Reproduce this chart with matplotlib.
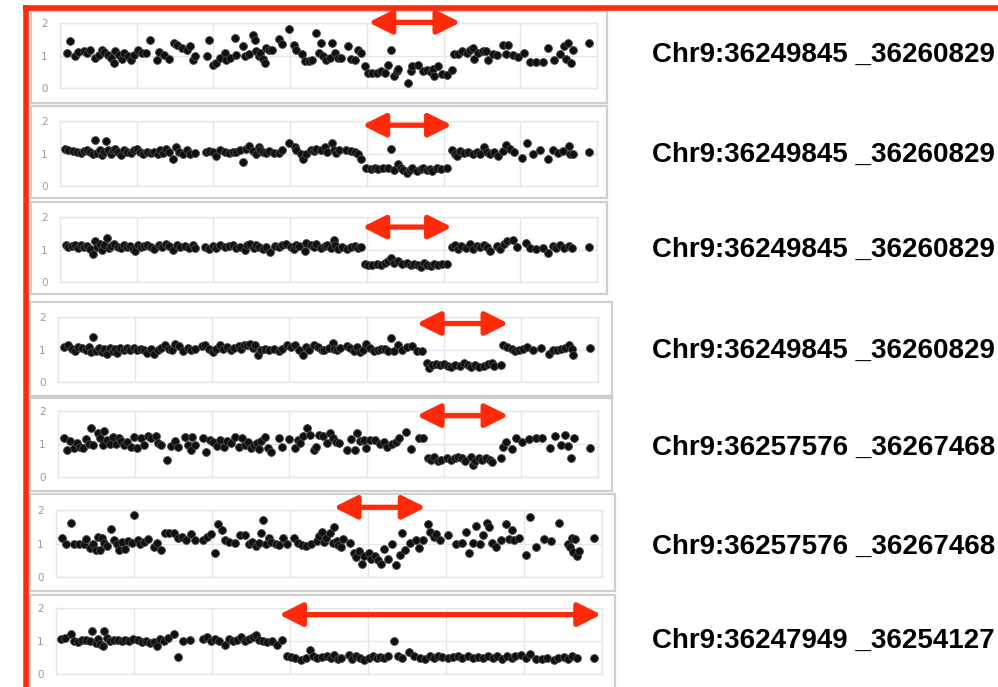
import matplotlib
matplotlib.use("Agg")
import matplotlib.pyplot as plt
from matplotlib.patches import Rectangle
from matplotlib.lines import Line2D

# ---------------- data (probe position 0..700, copy-number ratio) ----------------
labels = [
    "Chr9:36249845 _36260829",
    "Chr9:36249845 _36260829",
    "Chr9:36249845 _36260829",
    "Chr9:36249845 _36260829",
    "Chr9:36257576 _36267468",
    "Chr9:36257576 _36267468",
    "Chr9:36247949 _36254127",
]

p1_x = [9,13,19,24,31,35,39,45,51,55,58,62,66,70,72,77,81,84,88,93,97,102,107,112,117,126,129,135,142,149,
        152,159,165,170,174,176,191,194,199,204,209,215,217,222,228,230,238,241,246,251,254,256,259,261,264,267,268,272,277,285,
        290,299,305,308,315,319,324,329,334,337,340,343,347,352,355,358,362,366,376,379,385,389,393,398,402,407,413,418,423,427,
        432,436,439,441,453,457,459,467,473,478,483,486,488,493,498,504,511,514,519,524,530,535,538,540,545,551,555,558,564,569,
        577,581,584,590,597,605,613,621,629,636,644,652,657,660,662,666,669,689]
p1_y = [1.08,1.44,1.0,1.1,1.13,1.08,1.18,0.92,1.03,1.16,1.1,1.03,0.92,0.77,1.13,1.03,0.89,1.08,0.97,0.85,
        1.03,1.16,1.08,1.08,1.49,0.87,1.1,1.03,0.89,1.4,1.33,1.23,1.18,1.28,0.87,0.97,0.97,1.49,0.72,0.77,
        0.92,1.08,0.87,0.92,1.54,1.03,1.28,0.97,1.06,1.64,1.49,1.13,0.97,1.08,0.89,0.77,1.23,1.18,1.18,1.51,
        1.36,1.82,1.33,1.18,1.06,0.82,0.82,0.87,1.69,1.08,1.4,0.97,0.85,0.92,1.38,1.08,0.92,0.92,1.3,0.89,
        0.87,1.18,1.08,0.67,0.46,0.46,0.46,0.51,0.46,0.72,1.18,0.38,0.51,0.58,0.15,0.51,0.69,0.72,0.51,0.56,
        0.48,0.58,0.38,0.69,0.44,0.41,0.54,1.06,1.06,1.13,1.08,1.18,1.23,0.89,1.08,1.13,1.13,0.85,1.06,1.03,
        1.33,1.06,1.33,1.03,0.95,1.08,0.79,0.79,0.79,1.23,0.85,1.06,1.3,0.89,1.38,0.77,1.18,1.4]

p2_x = [6,11,17,22,27,31,35,39,43,45,48,52,55,57,60,62,66,69,72,76,79,83,87,92,97,100,104,108,113,118,
        123,128,131,134,138,142,147,151,155,160,165,170,176,190,194,199,204,209,215,220,225,230,235,239,243,247,251,255,259,261,
        264,269,273,279,285,290,298,306,308,314,317,321,327,331,334,340,345,348,355,357,360,364,373,379,384,389,392,399,405,410,
        415,421,427,432,436,440,444,447,452,456,459,465,470,473,478,482,485,491,496,505,511,515,518,522,527,532,538,543,548,553,
        556,561,566,571,577,582,587,592,602,609,616,626,636,643,649,656,663,665,669,689]
p2_y = [1.15,1.12,1.08,1.05,1.02,1.08,1.1,1.05,0.98,1.43,1.02,1.12,0.95,1.05,1.39,1.1,1.0,1.12,1.15,1.05,
        0.95,1.1,1.05,1.02,1.1,1.15,1.05,1.0,1.05,1.02,1.05,0.98,1.12,1.02,1.15,1.05,0.82,1.2,1.05,1.0,
        1.1,1.0,1.02,1.05,1.08,1.05,0.92,1.1,1.05,1.02,1.05,1.05,1.1,0.74,1.15,1.22,1.08,1.0,1.2,1.12,
        1.05,1.02,1.08,1.02,1.02,1.1,1.33,1.2,1.1,1.0,0.82,0.98,1.12,1.08,1.15,1.1,1.2,1.05,1.31,1.1,
        1.02,1.12,1.1,1.08,1.05,1.0,0.82,0.54,0.51,0.54,0.51,0.54,0.54,1.15,0.49,0.69,0.54,0.49,0.41,0.49,
        0.54,0.47,0.51,0.54,0.49,0.51,0.47,0.54,0.51,0.54,1.1,1.0,0.92,1.08,1.02,1.05,1.0,1.05,0.98,1.2,
        1.05,1.0,1.05,0.92,1.08,1.26,1.15,1.05,0.85,1.33,0.98,1.12,0.82,1.12,1.02,1.08,1.22,0.98,1.0,1.05]

p3_x = [8,11,15,19,23,27,31,35,39,43,45,48,52,55,58,61,64,67,71,76,79,83,87,91,95,98,102,105,109,114,
        118,123,129,133,138,142,147,152,157,163,168,173,176,189,194,199,204,209,215,220,225,230,235,241,244,248,253,256,260,264,
        269,274,280,285,290,295,301,305,308,312,319,321,327,331,334,340,345,348,353,357,359,363,367,374,379,385,389,393,398,402,
        407,413,418,423,428,432,436,441,446,452,457,462,467,471,475,479,483,487,493,498,505,511,515,519,523,529,534,539,543,548,
        553,557,561,569,574,579,583,590,596,607,613,621,629,636,642,647,652,657,663,668,689]
p3_y = [1.13,1.07,1.1,1.13,1.05,1.15,1.07,1.1,1.03,0.86,1.25,1.07,1.17,0.99,1.15,1.35,1.05,1.1,1.17,1.07,
        1.05,1.15,1.07,1.1,1.03,0.94,1.15,1.07,1.1,1.15,1.07,1.03,1.13,1.07,1.17,1.1,0.99,1.15,1.07,1.1,
        1.05,1.13,1.05,1.07,1.03,1.1,1.05,1.13,1.07,1.1,1.15,1.05,1.07,0.99,1.13,1.17,1.05,1.13,1.07,1.03,
        1.07,0.92,1.1,1.07,1.13,1.17,1.07,1.03,1.15,1.1,0.94,1.2,1.13,1.07,1.17,1.05,1.1,1.15,1.05,1.3,
        1.15,1.03,1.07,1.03,1.07,1.1,1.05,1.07,0.55,0.53,0.53,0.55,0.53,0.58,0.64,0.74,0.58,0.66,0.55,0.58,
        0.53,0.55,0.51,0.45,0.58,0.53,0.48,0.55,0.53,0.55,0.55,1.07,1.15,1.03,1.1,1.05,1.17,1.03,1.1,1.07,
        1.15,1.07,0.96,1.1,1.03,1.17,1.25,1.3,1.07,1.2,1.05,1.03,1.05,0.89,1.1,1.05,1.13,1.05,1.1,1.05,1.07]

p4_x = [8,13,18,22,26,31,36,40,43,46,49,53,57,60,63,67,71,74,77,81,85,89,93,98,103,107,111,116,120,125,
        129,134,139,144,148,152,157,162,168,173,177,187,191,196,201,205,210,214,219,224,228,234,237,241,245,249,253,256,259,263,
        268,273,280,286,291,297,302,307,312,318,322,326,332,337,342,345,351,356,358,362,366,374,379,384,388,392,395,399,405,410,
        415,419,424,428,432,436,441,446,452,459,466,472,478,481,485,490,495,500,505,510,515,521,526,531,536,541,546,552,557,562,
        565,574,577,582,588,593,598,603,608,616,626,637,642,647,652,657,662,666,668,690]
p4_y = [1.08,1.13,1.03,0.94,1.08,1.04,0.97,1.08,0.92,1.38,0.94,1.04,0.92,1.03,0.87,1.04,0.94,1.03,0.9,1.04,
        0.97,1.04,1.0,1.04,0.97,1.03,1.0,0.9,1.03,0.87,1.0,1.04,1.13,1.03,0.97,1.18,1.11,0.94,1.04,1.0,
        1.03,1.11,1.13,1.03,0.92,1.03,1.15,1.03,1.08,0.97,1.04,1.11,1.03,1.15,1.13,1.18,1.04,1.13,0.84,1.0,
        1.03,0.97,1.03,0.94,1.03,1.15,1.08,1.13,1.0,0.84,1.08,1.0,1.15,1.08,1.0,0.97,1.04,1.21,1.03,1.0,
        1.04,1.11,1.04,0.94,1.08,0.92,1.0,1.18,1.04,0.94,1.0,1.03,1.03,0.94,1.35,0.94,1.13,1.0,1.08,1.11,
        0.94,0.94,0.57,0.42,0.52,0.54,0.52,0.54,0.5,0.47,0.52,0.5,0.57,0.52,0.47,0.52,0.47,0.5,0.54,0.57,
        0.5,0.52,1.13,1.08,1.03,0.94,1.0,1.03,1.08,0.97,1.04,0.87,0.97,1.0,1.03,1.04,1.13,1.03,0.84,1.04]

p5_x = [8,12,15,21,24,28,32,36,40,43,46,52,54,58,60,63,67,71,75,79,82,86,90,95,99,103,107,112,117,121,
        127,130,134,141,146,152,156,165,169,172,174,177,188,192,197,201,206,210,215,219,224,229,235,239,242,246,250,254,258,260,
        263,268,272,276,286,291,299,307,311,314,318,323,327,332,335,338,343,349,353,357,361,364,375,380,385,388,392,397,399,405,
        411,418,423,426,433,438,442,451,457,468,473,479,483,488,493,497,504,509,514,519,524,528,535,538,541,546,550,555,560,563,
        574,577,581,588,594,602,610,619,627,638,644,652,657,661,665,669,690]
p5_y = [1.18,0.82,1.1,0.87,1.03,0.92,0.89,1.16,1.0,1.5,0.97,1.33,1.18,0.97,1.4,1.13,1.0,1.2,1.0,1.18,
        1.1,0.97,1.07,0.92,1.2,0.87,1.18,0.97,1.23,1.18,1.23,1.03,0.97,0.52,0.95,1.1,0.92,1.2,0.97,0.82,
        1.2,0.97,1.18,0.77,1.13,1.06,0.95,1.13,0.92,1.1,1.03,1.2,0.92,1.18,0.97,1.07,0.87,0.97,1.03,0.85,
        1.1,1.2,0.89,0.77,1.18,0.92,1.16,0.89,1.13,1.03,1.23,1.48,1.28,0.82,0.92,1.28,1.23,1.03,1.33,1.18,
        1.07,1.03,0.82,1.16,0.82,1.33,1.1,1.13,0.87,1.13,1.13,1.0,1.07,0.92,1.0,1.07,1.18,1.36,0.85,1.18,
        1.18,0.59,0.52,0.62,0.47,0.52,0.59,0.52,0.59,0.62,0.57,0.49,0.62,0.37,0.49,0.57,0.52,0.57,0.52,0.44,
        0.59,0.92,1.07,0.85,1.18,1.07,1.16,1.18,1.18,0.89,1.23,0.97,1.28,0.95,0.57,1.18,0.89]

p6_x = [8,13,19,23,30,36,38,43,47,51,54,56,59,62,65,70,74,78,81,84,88,92,97,100,105,108,113,118,125,129,
        134,140,145,151,157,162,167,173,178,189,194,199,204,208,213,217,222,229,236,242,247,251,256,260,263,265,269,273,276,282,
        286,291,296,305,310,315,320,327,334,337,341,343,346,351,355,357,360,362,366,368,377,382,385,388,392,395,401,404,409,413,
        417,421,426,431,436,441,444,448,454,462,465,470,477,480,484,487,492,503,513,520,526,530,535,538,543,547,552,555,559,564,
        571,577,581,584,587,594,603,608,616,625,635,645,656,659,662,663,666,668,671,690]
p6_y = [1.15,1.0,1.62,0.98,0.98,1.0,1.12,0.88,1.0,0.8,1.2,0.8,1.15,1.02,0.92,1.42,1.1,0.98,0.8,1.05,
        0.85,1.08,1.02,1.85,1.1,0.98,1.05,1.12,0.9,1.02,0.8,1.32,1.3,1.3,1.15,1.2,1.1,1.28,1.1,1.1,
        1.2,1.28,0.72,1.58,1.4,1.1,1.05,1.02,1.25,1.25,1.0,1.05,0.92,1.02,1.32,1.7,1.0,1.15,1.05,0.98,
        0.95,1.15,1.0,1.15,1.02,0.95,0.92,0.98,1.08,1.22,1.35,1.05,1.15,1.3,1.02,1.48,1.08,0.95,0.9,1.12,
        1.02,0.72,0.6,0.78,0.38,0.62,0.72,0.55,0.62,0.5,0.38,0.85,0.55,1.0,0.35,0.65,1.3,0.8,1.02,1.1,
        0.88,1.1,1.58,1.35,1.18,1.28,1.1,1.25,0.98,1.02,1.35,0.72,1.02,1.52,1.0,1.25,1.62,1.5,1.02,0.9,
        1.1,1.58,1.12,1.4,1.1,1.15,0.65,1.8,0.9,1.12,1.08,1.6,1.0,0.9,1.15,0.75,1.12,0.62,0.78,1.15]

p7_x = [6,11,19,23,28,33,38,43,46,51,54,56,60,62,65,69,74,79,84,89,94,99,105,110,115,120,125,129,133,138,
        143,151,157,163,172,189,194,199,204,209,217,222,227,232,237,242,247,253,256,260,265,270,277,283,290,296,301,307,314,320,
        326,329,334,341,347,352,356,361,366,375,380,385,390,395,401,406,411,416,421,426,433,438,443,452,459,467,473,479,485,490,
        495,503,509,515,521,528,535,541,547,554,560,566,572,578,584,589,596,602,608,616,623,630,638,644,651,656,662,668,690]
p7_y = [1.06,1.09,1.22,0.99,0.96,1.02,1.04,0.99,1.29,0.94,1.06,0.92,0.84,1.29,1.09,0.99,1.04,1.02,0.99,1.04,
        0.99,1.06,1.02,0.96,0.99,0.94,0.96,0.84,1.06,0.99,1.09,1.22,0.52,0.99,1.02,1.06,1.12,0.99,1.06,0.99,
        0.89,1.06,0.99,1.04,1.12,0.99,1.06,1.12,1.19,1.04,0.99,0.96,0.99,0.89,1.04,0.56,0.52,0.48,0.43,0.48,
        0.74,0.54,0.48,0.52,0.54,0.48,0.59,0.45,0.48,0.59,0.45,0.54,0.48,0.43,0.48,0.54,0.48,0.52,0.48,0.54,
        0.99,0.56,0.48,0.66,0.54,0.48,0.45,0.54,0.48,0.54,0.52,0.48,0.52,0.56,0.48,0.54,0.48,0.52,0.48,0.54,
        0.48,0.54,0.45,0.56,0.48,0.54,0.59,0.48,0.62,0.45,0.45,0.48,0.43,0.48,0.52,0.45,0.54,0.48,0.48]

# deleted-region arrows: start, end (probe position) and height (ratio)
arrow_start = [402, 394, 394, 465, 465, 356, 286]
arrow_end = [522, 511, 511, 584, 584, 474, 699]
arrow_level = [2.02, 1.87, 1.69, 1.80, 1.86, 2.08, 1.80]

xs = [p1_x, p2_x, p3_x, p4_x, p5_x, p6_x, p7_x]
ys = [p1_y, p2_y, p3_y, p4_y, p5_y, p6_y, p7_y]
for a, b in zip(xs, ys):
    assert len(a) == len(b), (len(a), len(b))

# ---------------- layout (pixels) ----------------
W, H = 998, 687
RED = "#FF2A0A"
plot_rects = [(60, 23, 597, 88), (60, 121, 597, 186), (60, 217, 597, 282),
              (58, 317, 598, 382), (58, 411, 598, 477), (56, 510, 602, 577),
              (56, 608, 602, 674)]
box_rects = [(31, 11, 607, 103), (31, 106, 607, 198), (31, 202, 607, 294),
             (30, 302, 612, 396), (30, 398, 612, 491), (30, 494, 615, 591),
             (30, 595, 615, 690)]
label_y = [55, 155, 250, 351, 448, 547, 641]

fig = plt.figure(figsize=(W / 100, H / 100), dpi=100)
fig.patch.set_facecolor("white")

def fx(px):
    return px / W

def fy(py):
    return 1 - py / H

for i in range(7):
    bl, bt, br, bb = box_rects[i]
    fig.add_artist(Rectangle((fx(bl), fy(bb)), fx(br - bl), (bb - bt) / H,
                             transform=fig.transFigure, facecolor="white",
                             edgecolor="#CFCFCF", lw=1.6, zorder=0))
    l, t, r, b = plot_rects[i]
    ax = fig.add_axes([fx(l), fy(b), fx(r - l), (b - t) / H])
    ax.set_xlim(0, 700)
    ax.set_ylim(0, 2)
    ax.set_xticks(range(0, 701, 100))
    ax.set_yticks([0, 1, 2])
    ax.set_yticklabels(["0", "1", "2"])
    ax.tick_params(axis="x", length=0, labelbottom=False)
    ax.tick_params(axis="y", length=0, pad=9, labelsize=7.5, labelcolor="#9A9A9A")
    ax.grid(True, color="#E6E6E6", lw=1.0)
    for s in ax.spines.values():
        s.set_color("#E6E6E6")
        s.set_linewidth(1.0)
    ax.set_facecolor("none")
    ax.set_axisbelow(True)
    ax.scatter(xs[i], ys[i], s=32, color="#101010", edgecolors="#4a4a4a",
               linewidths=0.6, zorder=3, clip_on=False)
    ax.annotate("", xy=(arrow_end[i], arrow_level[i]),
                xytext=(arrow_start[i], arrow_level[i]),
                arrowprops=dict(arrowstyle="<|-|>,head_length=1.4,head_width=0.7",
                                color=RED, lw=3.8, mutation_scale=10,
                                shrinkA=0, shrinkB=0),
                annotation_clip=False, zorder=5)
    fig.text(fx(652), fy(label_y[i]), labels[i], fontsize=20, fontweight="bold",
             family=["Liberation Sans", "DejaVu Sans"], ha="left", va="center",
             color="black")

# red frame
fig.add_artist(Line2D([fx(23), fx(1000)], [fy(7.5), fy(7.5)], transform=fig.transFigure,
                      color=RED, lw=4.0, solid_capstyle="butt", zorder=10))
fig.add_artist(Line2D([fx(26), fx(26)], [fy(5), fy(700)], transform=fig.transFigure,
                      color=RED, lw=4.0, solid_capstyle="butt", zorder=10))

fig.savefig("out.png", dpi=100, facecolor="white")
